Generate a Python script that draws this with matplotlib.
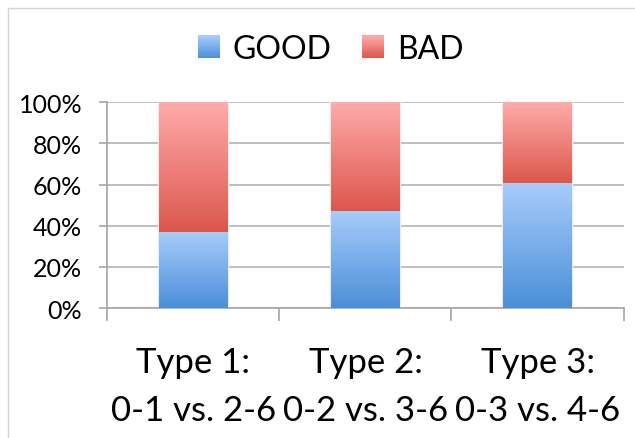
import numpy as np
import matplotlib
matplotlib.use("Agg")
import matplotlib.pyplot as plt
from matplotlib.colors import LinearSegmentedColormap, to_rgb
from matplotlib.patches import Rectangle
from matplotlib.legend_handler import HandlerBase
from matplotlib.lines import Line2D

plt.rcParams['font.family'] = ['Lato', 'DejaVu Sans']

# data
categories = ["Type 1:\n0-1 vs. 2-6", "Type 2:\n0-2 vs. 3-6", "Type 3:\n0-3 vs. 4-6"]
good = [37, 47.4, 60.7]
bad = [100 - g for g in good]
series_names = ["GOOD", "BAD"]
y_ticks = [0, 20, 40, 60, 80, 100]

# gradients: (top colour, bottom colour)
blue = ("#a8ccfc", "#4b8fd8")
red = ("#ffabaa", "#db574c")


def grad_cmap(top, bottom):
    return LinearSegmentedColormap.from_list("g", [to_rgb(bottom), to_rgb(top)])


fig = plt.figure(figsize=(6.35, 4.39), dpi=100)
ax = fig.add_axes([0.169, 0.2961, 0.813, 0.4686])

x = np.arange(len(categories))
b1 = ax.bar(x, good, width=0.4, color=blue[1], zorder=2)
b2 = ax.bar(x, bad, bottom=good, width=0.4, color=red[1], zorder=2)

# paint a vertical gradient over every bar segment
grad = np.linspace(0, 1, 256).reshape(-1, 1)
for bars, cols in ((b1, blue), (b2, red)):
    cmap = grad_cmap(*cols)
    for p in bars:
        x0, y0 = p.get_x(), p.get_y()
        w, h = p.get_width(), p.get_height()
        ax.imshow(grad, cmap=cmap, origin="lower", aspect="auto",
                  extent=(x0, x0 + w, y0, y0 + h), zorder=3,
                  interpolation="bilinear")
        p.set_edgecolor("#ececec")
        p.set_linewidth(1.6)

ax.set_xlim(-0.5, len(categories) - 0.5)
ax.set_ylim(0, 100)

ax.set_yticks(y_ticks)
ax.set_yticklabels([f"{t}%" for t in y_ticks])
ax.yaxis.grid(True, color="#b4b4b4", linewidth=1.2, zorder=0)
ax.set_axisbelow(True)

ax.set_xticks(x)
ax.set_xticklabels(categories, fontsize=25, linespacing=1.62)
ax.tick_params(axis="x", which="major", length=0, pad=27)
ax.set_xticks(np.arange(-0.5, len(categories)), minor=True)
ax.tick_params(axis="x", which="minor", length=9, width=1.2, color="#a6a6a6")
ax.tick_params(axis="y", length=6, width=1.2, color="#a6a6a6",
               labelsize=18, pad=12)

for s in ("top", "right"):
    ax.spines[s].set_visible(False)
for s in ("left", "bottom"):
    ax.spines[s].set_color("#a6a6a6")
    ax.spines[s].set_linewidth(1.2)


class GradHandler(HandlerBase):
    def __init__(self, cols):
        super().__init__()
        self.cols = cols

    def create_artists(self, legend, orig, xd, yd, width, height, fontsize, trans):
        cmap = grad_cmap(*self.cols)
        n = 20
        arts = []
        for i in range(n):
            r = Rectangle((-xd, -yd + height * i / n), width, height / n + 0.3,
                          facecolor=cmap((i + 0.5) / n), edgecolor="none",
                          transform=trans)
            arts.append(r)
        return arts


h_good = Rectangle((0, 0), 1, 1)
h_bad = Rectangle((0, 0), 1, 1)
fig.legend([h_good, h_bad], series_names, loc="center",
           bbox_to_anchor=(0.521, 0.886), ncol=2, frameon=False, fontsize=23,
           handlelength=0.68, handleheight=0.68, handletextpad=0.4,
           columnspacing=0.95,
           handler_map={h_good: GradHandler(blue), h_bad: GradHandler(red)})

# outer chart border (partly visible)
W, H = 635, 439
fig.add_artist(Line2D([8 / W, 8 / W], [0, 1 - 9 / H], color="#d4d4d4",
                      linewidth=1.0, transform=fig.transFigure))
fig.add_artist(Line2D([8 / W, 1], [1 - 9 / H, 1 - 9 / H], color="#d4d4d4",
                      linewidth=1.0, transform=fig.transFigure))

fig.savefig("out.png", dpi=100)
